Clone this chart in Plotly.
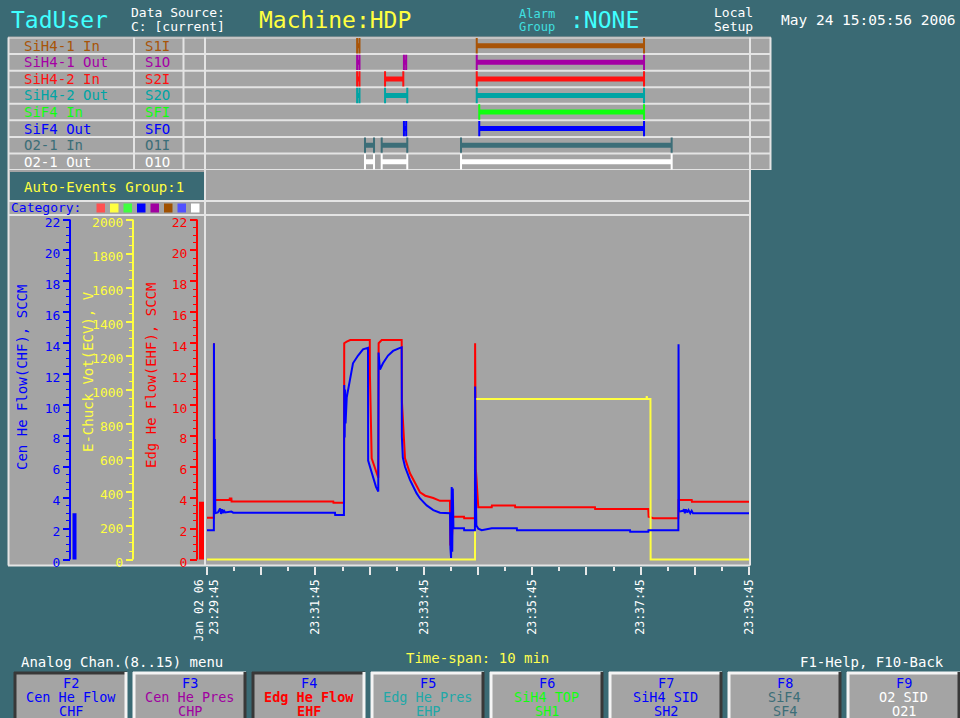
import plotly.graph_objects as go

W, H = 960, 718
TEAL = "#3a6a74"
GRAY = "#a4a4a4"
EDGE = "#e4e4e4"
MONO = "DejaVu Sans Mono"

# ---------------- trend data (seconds after 23:29:45) ----------------
# Cen He Flow (CHF), SCCM
chf_t = [0, 7.6, 7.7, 8.2, 8.7, 9.2, 12.0, 14.5, 15.5, 16.5, 17.5, 18.5, 20.0, 27.0, 29.0,
         141.7, 141.9, 151.6, 151.9, 152.4, 152.9, 153.4, 154.7, 158.5, 161.6, 167.2, 172.7,
         178.2, 178.4, 180.4, 183.8, 187.1, 189.6, 189.9, 191.5, 194.8, 200.4, 206.0, 213.7,
         215.5, 215.7, 216.8, 219.2, 224.7, 232.1, 235.8, 243.2, 250.5, 257.9, 269.0, 269.5,
         270.2, 270.9, 271.5, 272.1, 272.8, 284.5, 284.7, 296.6, 296.8, 297.3, 298.2, 300.3,
         304.1, 313.3, 315.2, 343.0, 343.2, 468.3, 468.5, 488.5, 488.7, 521.8, 522.0, 522.5,
         527.0, 528.0, 529.0, 530.0, 531.5, 533.0, 535.0, 536.5, 538.0, 600.0]
chf_v = [1.9, 1.9, 14.0, 3.2, 7.8, 3.0, 3.05, 3.3, 2.95, 3.25, 3.0, 3.2, 3.05, 3.1, 3.03,
         3.03, 2.88, 2.88, 11.3, 7.9, 11.0, 8.8, 10.5, 11.8, 12.7, 13.2, 13.6,
         13.7, 6.4, 6.0, 5.36, 4.7, 4.4, 13.4, 12.3, 12.7, 13.2, 13.5, 13.7,
         13.73, 7.95, 6.6, 6.0, 5.15, 4.28, 3.95, 3.5, 3.2, 3.03, 3.0, 0.7,
         0.1, 4.7, 0.5, 4.6, 2.02, 2.02, 1.9, 1.9, 11.2, 5.7, 2.2, 2.0,
         1.9, 1.97, 2.02, 2.02, 1.9, 1.9, 1.8, 1.8, 1.9, 1.9, 13.93, 3.1,
         3.15, 3.25, 3.0, 3.25, 3.05, 3.2, 3.0, 3.15, 3.0, 3.0]

# Edg He Flow (EHF), SCCM
ehf_t = [0, 7.6, 7.7, 8.2, 25.0, 25.2, 27.0, 27.2, 139.8, 140.0, 151.7, 151.9, 154.7, 158.5,
         180.2, 180.4, 182.3, 184.1, 187.9, 189.6, 190.0, 193.4, 215.5, 215.8, 219.2, 224.7,
         232.1, 235.8, 241.6, 250.5, 257.9, 269.0, 269.3, 269.9, 270.5, 272.5, 284.5, 284.7,
         296.6, 296.8, 297.6, 300.3, 315.2, 315.4, 341.0, 341.2, 429.5, 429.7, 488.5, 488.9,
         494.0, 521.8, 522.0, 536.6, 536.8, 600.0]
ehf_v = [2.7, 2.7, 14.0, 3.85, 3.85, 3.95, 3.95, 3.75, 3.75, 3.68, 3.68, 14.0, 14.1, 14.2,
         14.2, 11.9, 6.55, 6.2, 5.58, 5.3, 14.0, 14.2, 14.2, 10.2, 6.55, 5.58,
         4.71, 4.35, 4.13, 3.98, 3.8, 3.8, 0.9, 2.1, 0.83, 2.77, 2.77, 2.67,
         2.67, 14.0, 5.9, 3.38, 3.38, 3.49, 3.49, 3.38, 3.38, 3.27, 3.27, 2.77,
         2.67, 2.67, 3.85, 3.85, 3.74, 3.74]

# E-Chuck Volt (ECV), V
ecv_t = [0, 296.7, 296.9, 486.6, 486.8, 487.2, 490.9, 491.1, 600.0]
ecv_v = [0, 0, 945, 945, 962, 945, 945, 0, 0]

# time axis
time_tick_vals = [0, 60, 120, 180, 240, 300, 360, 420, 480, 540, 600]
time_tick_text = ["Jan 02 06<br>23:29:45", "", "23:31:45", "", "23:33:45", "",
                  "23:35:45", "", "23:37:45", "", "23:39:45"]
flow_ticks = list(range(0, 23, 2))
volt_ticks = list(range(0, 2001, 200))

# ---------------- event table ----------------
event_names = ["SiH4-1 In", "SiH4-1 Out", "SiH4-2 In", "SiH4-2 Out",
               "SiF4 In", "SiF4 Out", "O2-1 In", "O2-1 Out"]
event_codes = ["S1I", "S1O", "S2I", "S2O", "SFI", "SFO", "O1I", "O1O"]
event_colors = ["#a85408", "#a400a4", "#ff1010", "#00a4a4",
                "#10ff10", "#0000ff", "#3c6e78", "#ffffff"]
event_spans = [
    [(166.2, 168.8), (298.6, 483.8)],
    [(166.2, 168.8), (218.0, 220.5), (298.6, 483.8)],
    [(166.2, 168.8), (197.1, 217.3), (298.6, 483.8)],
    [(166.2, 168.8), (197.1, 221.7), (298.6, 483.8)],
    [(301.4, 483.8)],
    [(218.0, 220.5), (301.4, 483.8)],
    [(174.9, 184.9), (193.4, 221.7), (281.2, 514.4)],
    [(174.9, 184.9), (193.4, 221.7), (281.2, 514.4)],
]

category_colors = ["#ff5050", "#ffff40", "#40ff40", "#0000ff",
                   "#a000a0", "#a05000", "#5050ff", "#ffffff"]

# ---------------- function keys ----------------
fkey_ids = ["F2", "F3", "F4", "F5", "F6", "F7", "F8", "F9"]
fkey_names = ["Cen He Flow", "Cen He Pres", "Edg He Flow", "Edg He Pres",
              "SiH4 TOP", "SiH4 SID", "SiF4", "O2 SID"]
fkey_codes = ["CHF", "CHP", "EHF", "EHP", "SH1", "SH2", "SF4", "O21"]
fkey_colors = ["#0000ff", "#a000a0", "#ff0000", "#20a8a8",
               "#10ff10", "#0000ff", "#3c6e78", "#ffffff"]
fkey_pressed = [True, False, True, False, False, False, False, False]


def px(x):
    return x / W


def py(y):
    return 1 - y / H


shapes = []
annotations = []


def rect(x0, y0, x1, y1, fill, line_color=None, lw=0, layer="below"):
    shapes.append(dict(type="rect", xref="paper", yref="paper", layer=layer,
                       x0=px(x0), x1=px(x1), y0=py(y1), y1=py(y0),
                       fillcolor=fill,
                       line=dict(color=line_color or fill, width=lw)))


def hline(x0, x1, y, color=EDGE, lw=2, layer="below"):
    shapes.append(dict(type="line", xref="paper", yref="paper", layer=layer,
                       x0=px(x0), x1=px(x1), y0=py(y), y1=py(y),
                       line=dict(color=color, width=lw)))


def vline(x, y0, y1, color=EDGE, lw=2, layer="below"):
    shapes.append(dict(type="line", xref="paper", yref="paper", layer=layer,
                       x0=px(x), x1=px(x), y0=py(y0), y1=py(y1),
                       line=dict(color=color, width=lw)))


def text(x, y, s, color, size=13, anchor="left", angle=0, bold=False, yref="paper"):
    if bold:
        s = "<b>" + s + "</b>"
    annotations.append(dict(x=px(x), y=(py(y) if yref == "paper" else y),
                            xref="paper", yref=yref, text=s, showarrow=False,
                            xanchor=anchor, yanchor="middle", textangle=angle,
                            borderpad=0,
                            font=dict(family=MONO, size=size, color=color)))


# ---------------- header ----------------
text(10, 20, "TadUser", "#40ffff", size=23)
text(130, 13, "Data Source:", "#ffffff", size=13)
text(130, 27, "C: [current]", "#ffffff", size=13)
text(258, 20, "Machine:HDP", "#ffff40", size=23)
text(518, 14, "Alarm", "#40e0e0", size=12)
text(518, 27, "Group", "#40e0e0", size=12)
text(569, 20, ":NONE", "#40ffff", size=23)
text(713, 13, "Local", "#ffffff", size=13)
text(713, 27, "Setup", "#ffffff", size=13)
text(957, 20, "May 24 15:05:56 2006", "#ffffff", size=14.5, anchor="right")

# ---------------- event table frame ----------------
TBL_TOP, TBL_BOT = 37.5, 170.0
rect(8, TBL_TOP - 1, 771, TBL_BOT, GRAY)
for i in range(9):
    shapes.append(dict(type="line", xref="paper", yref="y4", layer="below",
                       x0=px(8), x1=px(771), y0=i, y1=i,
                       line=dict(color=EDGE, width=2)))
for xv in [8.5, 134, 183.5, 205, 750, 770.5]:
    vline(xv, TBL_TOP, TBL_BOT)
for i, (nm, cd, col) in enumerate(zip(event_names, event_codes, event_colors)):
    text(23, i + 0.5, nm, col, size=14, yref="y4")
    text(144, i + 0.5, cd, col, size=14, yref="y4")

# ---------------- lower panel frame ----------------
rect(8, 170, 750, 565.5, GRAY)
rect(10, 172, 204, 200.5, TEAL)
text(23, 187, "Auto-Events Group:1", "#ffff40", size=14)
hline(8, 750, 201)
hline(8, 750, 215)
hline(8, 750, 565.5)
vline(8.5, 170, 565.5)
vline(205, 170, 565.5)
vline(750, 170, 565.5)
text(10, 207.5, "Category:", "#0000ff", size=13)
for k, c in enumerate(category_colors):
    x0 = 96.5 + k * 13.5
    rect(x0, 203.5, x0 + 8.5, 212.5, c)

# axis titles
text(22, 378, "Cen He Flow(CHF), SCCM", "#0000ff", size=14, anchor="center", angle=-90)
text(88, 372, "E-Chuck Vot(ECV), V", "#ffff40", size=14, anchor="center", angle=-90)
text(151, 376, "Edg He Flow(EHF), SCCM", "#ff0000", size=14, anchor="center", angle=-90)

# axis spines and current-value bars drawn on the data scales
shapes.append(dict(type="line", xref="paper", yref="y3", x0=px(70), x1=px(70), y0=0, y1=22,
                   line=dict(color="#0000ff", width=2)))
shapes.append(dict(type="line", xref="paper", yref="y2", x0=px(133), x1=px(133), y0=0, y1=2000,
                   line=dict(color="#ffff40", width=2)))
shapes.append(dict(type="line", xref="paper", yref="y", x0=px(197), x1=px(197), y0=0, y1=22,
                   line=dict(color="#ff0000", width=2)))
shapes.append(dict(type="rect", xref="paper", yref="y3", x0=px(72.5), x1=px(76.5),
                   y0=0, y1=chf_v[-1], fillcolor="#0000ff", line=dict(width=0)))
shapes.append(dict(type="rect", xref="paper", yref="y", x0=px(199), x1=px(204),
                   y0=0, y1=ehf_v[-1], fillcolor="#ff0000", line=dict(width=0)))

# ---------------- bottom bar ----------------
text(20, 662, "Analog Chan.(8..15) menu", "#ffffff", size=14)
text(405, 658, "Time-span: 10 min", "#ffff50", size=14)
text(799, 662, "F1-Help, F10-Back", "#ffffff", size=14)

for k in range(len(fkey_ids)):
    x0 = 14 + k * 119
    x1 = x0 + 113
    y0, y1 = 672, 720
    rect(x0, y0, x1, y1, GRAY)
    light, dark = "#f4f4f4", "#383838"
    tl, br = (dark, light) if fkey_pressed[k] else (light, dark)
    hline(x0, x1, y0 + 1, color=tl, lw=3)
    vline(x0 + 1, y0, y1, color=tl, lw=3)
    vline(x1 - 1, y0, y1, color=br, lw=3)
    cx = (x0 + x1) / 2
    bold = fkey_pressed[k] and k == 2
    text(cx, 683, fkey_ids[k], "#0000ff", size=13.5, anchor="center")
    text(cx, 697, fkey_names[k], fkey_colors[k], size=13.5, anchor="center", bold=bold)
    text(cx, 710.5, fkey_codes[k], fkey_colors[k], size=13.5, anchor="center", bold=bold)

# ---------------- traces ----------------
fig = go.Figure()
fig.add_trace(go.Scatter(x=ehf_t, y=ehf_v, xaxis="x", yaxis="y", mode="lines",
                         line=dict(color="#ff0000", width=2), hoverinfo="skip"))
fig.add_trace(go.Scatter(x=ecv_t, y=ecv_v, xaxis="x", yaxis="y2", mode="lines",
                         line=dict(color="#ffff40", width=2), hoverinfo="skip"))
fig.add_trace(go.Scatter(x=chf_t, y=chf_v, xaxis="x", yaxis="y3", mode="lines",
                         line=dict(color="#0000ff", width=2), hoverinfo="skip"))

for r, spans in enumerate(event_spans):
    xs, ys = [], []
    for s, e in spans:
        xs += [s, e, None]
        ys += [r + 0.5, r + 0.5, None]
    col = event_colors[r]
    fig.add_trace(go.Scatter(x=xs, y=ys, xaxis="x2", yaxis="y4", mode="lines+markers",
                             line=dict(color=col, width=5),
                             marker=dict(symbol="line-ns", size=11, color=col,
                                         line=dict(color=col, width=2)),
                             hoverinfo="skip"))

# ---------------- axes ----------------
Y_BOT_PX, Y_TOP_PX = 565.7, 216.5
FLOW_RANGE = [-0.4, 22.2]
VOLT_RANGE = [v * 2000 / 22 for v in FLOW_RANGE]
ydom = [py(Y_BOT_PX), py(Y_TOP_PX)]
XDOM = [px(207), px(749)]


def flow_axis(color, pos, **extra):
    d = dict(domain=ydom, range=FLOW_RANGE, anchor="free", position=pos, side="left",
             tickvals=flow_ticks, ticks="outside", ticklen=7, tickwidth=1.5, tickcolor=color,
             tickfont=dict(family=MONO, size=13, color=color), ticklabelshift=3,
             minor=dict(ticks="outside", dtick=0.5, tick0=0, ticklen=4, tickcolor=color,
                        tickwidth=1, showgrid=False),
             showgrid=False, zeroline=False, showline=False, fixedrange=True,
             automargin=False)
    d.update(extra)
    return d


fig.update_layout(
    template="none",
    width=W, height=H, autosize=False, margin=dict(l=0, r=0, t=0, b=0, pad=0),
    paper_bgcolor=TEAL, plot_bgcolor="rgba(0,0,0,0)",
    showlegend=False, hovermode=False,
    xaxis=dict(domain=XDOM, range=[0, 600], anchor="y", automargin=False,
               tickvals=time_tick_vals, ticktext=time_tick_text, tickangle=-90,
               ticks="outside", ticklen=8, tickwidth=1.5, tickcolor="#e8e8e8",
               minor=dict(ticks="outside", dtick=30, tick0=0, ticklen=4,
                          tickcolor="#e8e8e8", tickwidth=1.5, showgrid=False),
               tickfont=dict(family=MONO, size=11.5, color="#ffffff"),
               showgrid=False, zeroline=False, showline=False, fixedrange=True),
    xaxis2=dict(domain=XDOM, range=[0, 600], anchor="y4", visible=False,
                fixedrange=True, automargin=False),
    yaxis=flow_axis("#ff0000", px(197)),
    yaxis2=dict(domain=ydom, range=VOLT_RANGE, anchor="free", position=px(133), side="left",
                overlaying="y", tickvals=volt_ticks, ticks="outside", ticklen=7, tickwidth=1.5,
                tickcolor="#ffff40", tickfont=dict(family=MONO, size=13, color="#ffff40"),
                ticklabelshift=3,
                minor=dict(ticks="outside", dtick=50, tick0=0, ticklen=4, tickcolor="#ffff40",
                           tickwidth=1, showgrid=False),
                showgrid=False, zeroline=False, showline=False, fixedrange=True,
                automargin=False),
    yaxis3=flow_axis("#0000ff", px(70), overlaying="y"),
    yaxis4=dict(domain=[py(TBL_BOT), py(TBL_TOP)], range=[8, 0], anchor="x2",
                visible=False, fixedrange=True, automargin=False),
    shapes=shapes, annotations=annotations,
)

fig.write_html("out.html", config={"displayModeBar": False})
